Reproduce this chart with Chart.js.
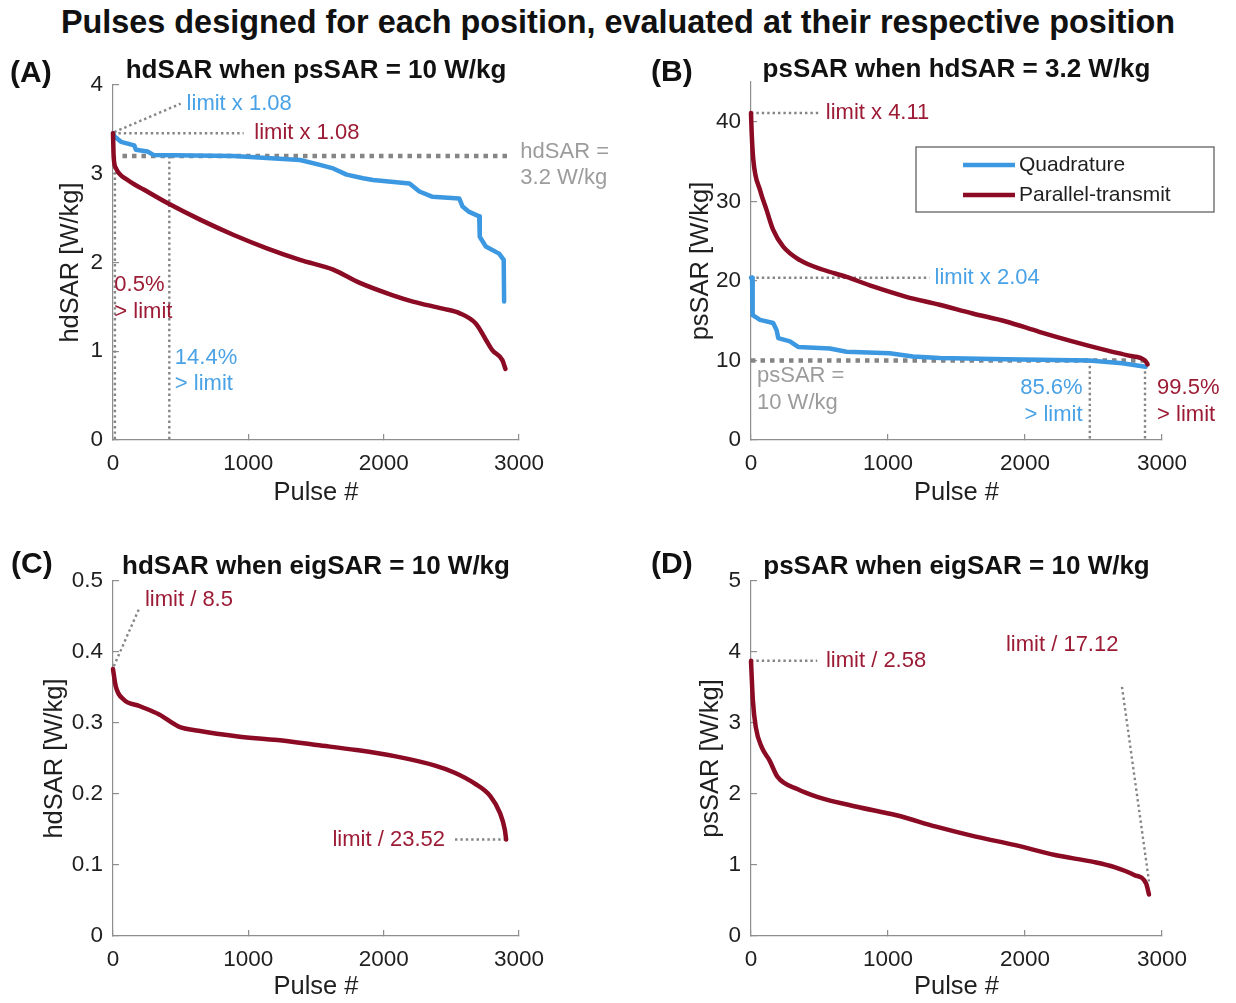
<!DOCTYPE html>
<html>
<head>
<meta charset="utf-8">
<script src="https://cdn.jsdelivr.net/npm/chart.js@4.4.1/dist/chart.umd.min.js"></script>
<style>
  body { margin: 0; background: #fff; width: 1236px; height: 1003px; position: relative; overflow: hidden;
         font-family: "Liberation Sans", Arial, Helvetica, sans-serif; }
  h1 { position: absolute; left: 0; top: 0; width: 1236px; margin: 0; text-align: center;
       font-size: 32.4px; line-height: 44px; font-weight: bold; color: #111; }
  canvas { position: absolute; }
</style>
</head>
<body>
<h1>Pulses designed for each position, evaluated at their respective position</h1>
<canvas id="panelA"></canvas>
<canvas id="panelB"></canvas>
<canvas id="panelC"></canvas>
<canvas id="panelD"></canvas>
<script>
const FONT = '"Liberation Sans", Arial, Helvetica, sans-serif';
Chart.defaults.font.family = FONT;

const BLUE = '#3c98e0', RED = '#8a0b23';
const TEXT = { quad: '#4aa2e6', ptx: '#9c1b35', gray: '#9c9c9c' };
const INK = '#1f1f1f', AXIS = '#8e8e8e', GUIDE = '#858585';

const X_TICKS = [0, 1000, 2000, 3000];

// (A) hdSAR when psSAR = 10 W/kg
const A_Y_TICKS = [0, 1, 2, 3, 4];
const A_QUAD_X = [0, 12, 59, 157, 169, 255, 302, 891, 1382, 1529, 1627, 1726, 1848, 1921, 2191, 2264, 2362, 2559, 2583, 2632, 2706, 2710, 2755, 2853, 2887, 2890];
const A_QUAD_Y = [3.456, 3.42, 3.36, 3.32, 3.27, 3.25, 3.21, 3.2, 3.155, 3.1, 3.06, 2.99, 2.95, 2.93, 2.89, 2.8, 2.74, 2.72, 2.63, 2.57, 2.52, 2.29, 2.18, 2.1, 2.03, 1.56];
const A_PTX_X = [0, 5, 22, 108, 230, 402, 647, 892, 1137, 1382, 1627, 1824, 2068, 2216, 2436, 2559, 2682, 2755, 2804, 2877, 2900];
const A_PTX_Y = [3.456, 3.19, 3.06, 2.93, 2.82, 2.67, 2.48, 2.31, 2.16, 2.03, 1.92, 1.77, 1.63, 1.56, 1.48, 1.43, 1.31, 1.13, 1.01, 0.9, 0.8];
// [pulse0, sar0, pulse1, sar1, weight]
const A_GUIDES = [
  [10, 3.47, 500, 3.79, 'thin'],
  [0, 3.456, 965, 3.456, 'thin'],
  [70, 3.2, 2914, 3.2, 'thick'],
  [14, 3.2, 14, 0, 'thin'],
  [416, 3.2, 416, 0, 'thin'],
];
// [text, pulse, sar, colour, align]
const A_NOTES = [
  ['limit x 1.08', 544, 3.79, 'quad', 'left'],
  ['limit x 1.08', 1044, 3.456, 'ptx', 'left'],
  ['hdSAR =', 3010, 3.245, 'gray', 'left'],
  ['3.2 W/kg', 3010, 2.95, 'gray', 'left'],
  ['0.5%', 10, 1.75, 'ptx', 'left'],
  ['> limit', 10, 1.44, 'ptx', 'left'],
  ['14.4%', 457, 0.92, 'quad', 'left'],
  ['> limit', 457, 0.63, 'quad', 'left'],
];

// (B) psSAR when hdSAR = 3.2 W/kg
const B_Y_TICKS = [0, 10, 20, 30, 40];
const B_QUAD_X = [0, 8, 12, 66, 162, 187, 199, 284, 344, 575, 697, 1012, 1182, 1376, 1861, 2468, 2710, 2880];
const B_QUAD_Y = [20.4, 20.4, 15.7, 15.1, 14.7, 13.8, 12.8, 12.4, 11.7, 11.5, 11.1, 10.9, 10.5, 10.3, 10.15, 10.0, 9.65, 9.2];
const B_PTX_X = [0, 5, 17, 66, 114, 162, 235, 357, 526, 697, 890, 1133, 1376, 1618, 1861, 2104, 2346, 2589, 2759, 2876, 2895];
const B_PTX_Y = [41.1, 38.6, 35.2, 31.4, 28.9, 26.4, 24.3, 22.6, 21.4, 20.5, 19.3, 18.0, 17.0, 15.9, 14.9, 13.6, 12.4, 11.3, 10.6, 10.0, 9.5];
const B_GUIDES = [
  [0, 41.1, 502, 41.1, 'thin'],
  [0, 20.4, 1303, 20.4, 'thin'],
  [0, 10, 2876, 10, 'thick'],
  [2473, 10, 2473, 0, 'thin'],
  [2876, 10, 2876, 0, 'thin'],
];
const B_NOTES = [
  ['limit x 4.11', 546, 41.1, 'ptx', 'left'],
  ['limit x 2.04', 1340, 20.4, 'quad', 'left'],
  ['psSAR =', 44, 8.1, 'gray', 'left'],
  ['10 W/kg', 44, 4.7, 'gray', 'left'],
  ['85.6%', 2420, 6.5, 'quad', 'right'],
  ['> limit', 2420, 3.15, 'quad', 'right'],
  ['99.5%', 2964, 6.5, 'ptx', 'left'],
  ['> limit', 2964, 3.15, 'ptx', 'left'],
];

// (C) hdSAR when eigSAR = 10 W/kg
const C_Y_TICKS = [0, 0.1, 0.2, 0.3, 0.4, 0.5];
const C_PTX_X = [0, 20, 79, 195, 341, 486, 632, 923, 1215, 1506, 1797, 2089, 2380, 2525, 2671, 2788, 2860, 2895, 2905];
const C_PTX_Y = [0.376, 0.352, 0.333, 0.324, 0.312, 0.295, 0.289, 0.281, 0.276, 0.269, 0.262, 0.253, 0.24, 0.23, 0.215, 0.197, 0.173, 0.15, 0.136];
const C_GUIDES = [
  [6, 0.38, 195, 0.462, 'thin'],
  [2527, 0.136, 2905, 0.136, 'thin'],
];
const C_NOTES = [
  ['limit / 8.5', 236, 0.473, 'ptx', 'left'],
  ['limit / 23.52', 2453, 0.136, 'ptx', 'right'],
];

// (D) psSAR when eigSAR = 10 W/kg
const D_Y_TICKS = [0, 1, 2, 3, 4, 5];
const D_PTX_X = [0, 14, 35, 78, 136, 194, 338, 483, 772, 1062, 1351, 1640, 1930, 2219, 2508, 2653, 2797, 2884, 2905];
const D_PTX_Y = [3.876, 3.31, 2.94, 2.66, 2.47, 2.24, 2.07, 1.96, 1.82, 1.7, 1.54, 1.4, 1.28, 1.14, 1.04, 0.97, 0.86, 0.74, 0.584];
const D_GUIDES = [
  [0, 3.876, 483, 3.876, 'thin'],
  [2708, 3.51, 2905, 0.77, 'thin'],
];
const D_NOTES = [
  ['limit / 2.58', 547, 3.876, 'ptx', 'left'],
  ['limit / 17.12', 1861, 4.1, 'ptx', 'left'],
];

// page placement of each panel: canvas box, plot area, title/label anchors
const LAYOUT = {
  A: { box: [0, 40, 618, 480],   area: [113, 85, 519, 440],  yTitleX: 71,  xTitleY: 493, titleY: 71,  letter: [10, 74] },
  B: { box: [618, 40, 618, 480], area: [751, 82, 1162, 440], yTitleX: 701, xTitleY: 493, titleY: 70,  letter: [651, 73] },
  C: { box: [0, 530, 618, 473],  area: [113, 581, 519, 936], yTitleX: 55,  xTitleY: 987, titleY: 567, letter: [11, 565] },
  D: { box: [618, 530, 618, 473],area: [751, 581, 1162, 936],yTitleX: 711, xTitleY: 987, titleY: 567, letter: [651, 565] },
};

const pts = (xs, ys) => xs.map((x, i) => ({ x, y: ys[i] }));

function curve(label, xs, ys, color, smooth, order) {
  return {
    label, data: pts(xs, ys), borderColor: color, borderWidth: 4.5,
    borderCapStyle: 'round', borderJoinStyle: 'round',
    pointRadius: 0, tension: 0, order, clip: false,
    cubicInterpolationMode: smooth ? 'monotone' : 'default',
  };
}

function guideSets(guides) {
  return guides.map(([x0, y0, x1, y1, w]) => ({
    data: [{ x: x0, y: y0 }, { x: x1, y: y1 }],
    borderColor: GUIDE,
    borderWidth: w === 'thick' ? 4.5 : 2.4,
    borderDash: w === 'thick' ? [4.5, 5] : [2.4, 3],
    borderCapStyle: 'butt',
    pointRadius: 0, tension: 0, order: 5, clip: false,
  }));
}

// text notes, panel heading, letter and (optionally) the legend box
function decor(spec, L) {
  return {
    id: 'decor',
    afterDraw(chart) {
      const { ctx, chartArea: a, scales: { x, y } } = chart;
      const [bx, by] = L.box;
      ctx.save();
      ctx.textBaseline = 'middle';
      ctx.font = `22px ${FONT}`;
      spec.notes.forEach(([t, px, py, c, align]) => {
        ctx.fillStyle = TEXT[c];
        ctx.textAlign = align;
        ctx.fillText(t, x.getPixelForValue(px), y.getPixelForValue(py));
      });

      ctx.fillStyle = '#111';
      ctx.textAlign = 'center';
      ctx.font = `bold 26px ${FONT}`;
      ctx.fillText(spec.title, (a.left + a.right) / 2, L.titleY - by);
      ctx.textAlign = 'left';
      ctx.font = `bold 30px ${FONT}`;
      ctx.fillText(spec.letter, L.letter[0] - bx, L.letter[1] - by);

      if (spec.legend) {
        const items = chart.data.datasets.filter(d => d.label).sort((p, q) => q.order - p.order);
        ctx.strokeStyle = '#555';
        ctx.lineWidth = 1.2;
        ctx.strokeRect(a.left + 165, a.top + 65, 298, 65);
        ctx.font = `21px ${FONT}`;
        items.forEach((d, i) => {
          const ly = a.top + 83 + i * 30;
          ctx.strokeStyle = d.borderColor;
          ctx.lineWidth = 4.5;
          ctx.beginPath();
          ctx.moveTo(a.left + 212, ly);
          ctx.lineTo(a.left + 264, ly);
          ctx.stroke();
          ctx.fillStyle = INK;
          ctx.fillText(d.label, a.left + 268, ly);
        });
      }
      ctx.restore();
    },
  };
}

function panel(key, spec) {
  const L = LAYOUT[key];
  const [bx, by, bw, bh] = L.box;
  const [al, at, ar, ab] = L.area;
  const cv = document.getElementById('panel' + key);
  cv.width = bw; cv.height = bh;
  cv.style.left = bx + 'px'; cv.style.top = by + 'px';

  const axisBase = {
    type: 'linear',
    grid: { drawOnChartArea: false, tickLength: -6, color: AXIS, lineWidth: 1.2 },
    border: { color: AXIS, width: 1.2 },
  };
  const titleHalf = 25.5 * 1.2 / 2;

  new Chart(cv, {
    type: 'line',
    data: { datasets: [...spec.curves, ...guideSets(spec.guides)] },
    options: {
      responsive: false, animation: false, events: [],
      layout: { padding: { left: 0, bottom: 0, top: at - by, right: bx + bw - ar } },
      plugins: { legend: { display: false }, tooltip: { enabled: false } },
      scales: {
        x: {
          ...axisBase, min: 0, max: 3000,
          afterBuildTicks: s => { s.ticks = X_TICKS.map(value => ({ value })); },
          afterFit: s => { s.height = by + bh - ab; },
          ticks: { padding: 16, color: INK, font: { size: 22.5 }, maxRotation: 0, callback: v => String(v) },
          title: { display: true, text: 'Pulse #', color: INK, font: { size: 25.5 },
                   padding: { top: 0, bottom: by + bh - L.xTitleY - titleHalf } },
        },
        y: {
          ...axisBase, min: 0, max: spec.yMax,
          afterBuildTicks: s => { s.ticks = spec.yTicks.map(value => ({ value })); },
          afterFit: s => { s.width = al - bx; },
          ticks: { padding: 16, color: INK, font: { size: 22.5 }, callback: v => String(v) },
          title: { display: true, text: spec.yTitle, color: INK, font: { size: 25.5 },
                   padding: { top: L.yTitleX - bx - titleHalf, bottom: 0 } },
        },
      },
    },
    plugins: [decor(spec, L)],
  });
}

panel('A', {
  letter: '(A)', title: 'hdSAR when psSAR = 10 W/kg', yTitle: 'hdSAR [W/kg]',
  yMax: 4, yTicks: A_Y_TICKS,
  curves: [
    curve('Parallel-transmit', A_PTX_X, A_PTX_Y, RED, true, 0),
    curve('Quadrature', A_QUAD_X, A_QUAD_Y, BLUE, false, 1),
  ],
  guides: A_GUIDES, notes: A_NOTES,
});

panel('B', {
  letter: '(B)', title: 'psSAR when hdSAR = 3.2 W/kg', yTitle: 'psSAR [W/kg]',
  yMax: 45, yTicks: B_Y_TICKS,
  curves: [
    curve('Parallel-transmit', B_PTX_X, B_PTX_Y, RED, true, 0),
    curve('Quadrature', B_QUAD_X, B_QUAD_Y, BLUE, false, 1),
  ],
  guides: B_GUIDES, notes: B_NOTES, legend: true,
});

panel('C', {
  letter: '(C)', title: 'hdSAR when eigSAR = 10 W/kg', yTitle: 'hdSAR [W/kg]',
  yMax: 0.5, yTicks: C_Y_TICKS,
  curves: [curve('Parallel-transmit', C_PTX_X, C_PTX_Y, RED, true, 0)],
  guides: C_GUIDES, notes: C_NOTES,
});

panel('D', {
  letter: '(D)', title: 'psSAR when eigSAR = 10 W/kg', yTitle: 'psSAR [W/kg]',
  yMax: 5, yTicks: D_Y_TICKS,
  curves: [curve('Parallel-transmit', D_PTX_X, D_PTX_Y, RED, true, 0)],
  guides: D_GUIDES, notes: D_NOTES,
});
</script>
</body>
</html>
